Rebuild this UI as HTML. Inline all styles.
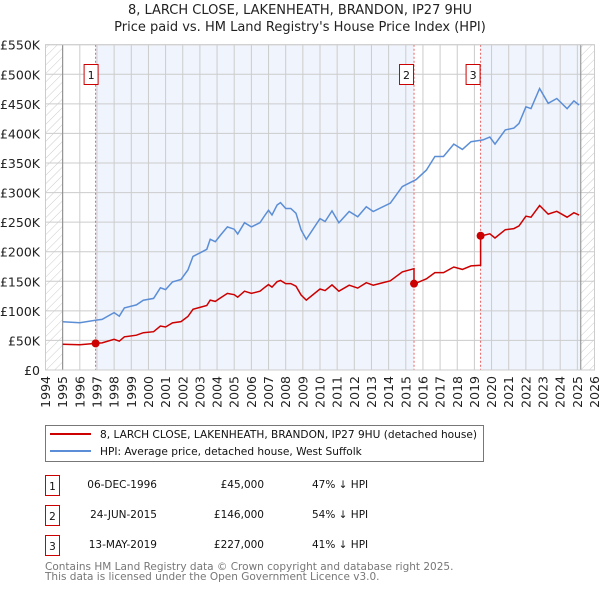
<!DOCTYPE html>
<html><head><meta charset="utf-8"><style>
body{margin:0;background:#fff;width:600px;height:590px;overflow:hidden;font-family:"DejaVu Sans","Liberation Sans",sans-serif;}
svg text{font-family:"DejaVu Sans","Liberation Sans",sans-serif;}
</style></head><body>
<svg id="chart" width="600" height="590" viewBox="0 0 600 590" xmlns="http://www.w3.org/2000/svg">
<defs><pattern id="hatch" width="6" height="6" patternUnits="userSpaceOnUse" patternTransform="rotate(45)"><line x1="0" y1="0" x2="0" y2="6" stroke="#ccc" stroke-width="1"/></pattern></defs>
<text x="300" y="14" text-anchor="middle" font-size="13" fill="#222">8, LARCH CLOSE, LAKENHEATH, BRANDON, IP27 9HU</text>
<text x="300" y="31" text-anchor="middle" font-size="13" fill="#222">Price paid vs. HM Land Registry's House Price Index (HPI)</text>
<g id="plot"></g>
<g>
<rect x="45.5" y="425.5" width="438" height="36" fill="#fff" stroke="#777"/>
<line x1="50" y1="434" x2="91" y2="434" stroke="#cc0000" stroke-width="2"/>
<text x="100" y="438" font-size="10.6" fill="#111">8, LARCH CLOSE, LAKENHEATH, BRANDON, IP27 9HU (detached house)</text>
<line x1="50" y1="451" x2="91" y2="451" stroke="#5b8ed6" stroke-width="2"/>
<text x="100" y="455" font-size="10.6" fill="#111">HPI: Average price, detached house, West Suffolk</text>
</g>
<g font-size="10.5" fill="#111">
<g><rect x="45.5" y="475.5" width="14" height="20" fill="none" stroke="#cc0000"/><text x="52.5" y="490" text-anchor="middle">1</text><text x="157" y="488" text-anchor="end">06-DEC-1996</text><text x="264" y="488" text-anchor="end">£45,000</text><text x="312" y="488">47% ↓ HPI</text></g>
<g><rect x="45.5" y="505.5" width="14" height="20" fill="none" stroke="#cc0000"/><text x="52.5" y="520" text-anchor="middle">2</text><text x="157" y="518" text-anchor="end">24-JUN-2015</text><text x="264" y="518" text-anchor="end">£146,000</text><text x="312" y="518">54% ↓ HPI</text></g>
<g><rect x="45.5" y="535.5" width="14" height="20" fill="none" stroke="#cc0000"/><text x="52.5" y="550" text-anchor="middle">3</text><text x="157" y="548" text-anchor="end">13-MAY-2019</text><text x="264" y="548" text-anchor="end">£227,000</text><text x="312" y="548">41% ↓ HPI</text></g>
</g>
<text x="45" y="570" font-size="10.5" fill="#777">Contains HM Land Registry data © Crown copyright and database right 2025.</text>
<text x="45" y="580" font-size="10.5" fill="#777">This data is licensed under the Open Government Licence v3.0.</text>
</svg>
<script>
const hpiYears=[1995.0,1996.0,1997.0,1997.3,1998.0,1998.3,1998.6,1999.3,1999.7,2000.3,2000.7,2001.0,2001.4,2001.9,2002.3,2002.6,2003.0,2003.4,2003.6,2003.9,2004.2,2004.6,2005.0,2005.2,2005.6,2006.0,2006.5,2006.8,2007.0,2007.2,2007.5,2007.7,2008.0,2008.3,2008.6,2008.9,2009.2,2010.0,2010.3,2010.7,2011.1,2011.7,2012.2,2012.7,2013.1,2014.1,2014.8,2015.6,2016.2,2016.7,2017.2,2017.8,2018.3,2018.8,2019.5,2019.9,2020.2,2020.8,2021.3,2021.6,2022.0,2022.3,2022.8,2023.3,2023.8,2024.4,2024.8,2025.1];
const hpiValues=[81.7,80,84.5,85.6,97,91,105,110,118,121,139,136,149,153,169,192,198,204,221,217,228,242,238,230,249,242,249,262,270,262,279,283,273,273,265,237,221,256,251,269,249,268,259,276,268,282,310,322,338,361,361,382,373,386,389,394,382,406,409,417,445,442,476,451,459,442,455,448];
const saleDates=[1996.92,2015.48,2019.36];
const salePrices=[45,146,227];
const saleLabels=["1","2","3"];
const yTicks=[0,50,100,150,200,250,300,350,400,450,500,550];
const yTickLabels=["£0","£50K","£100K","£150K","£200K","£250K","£300K","£350K","£400K","£450K","£500K","£550K"];
const xTicks=[1994,1995,1996,1997,1998,1999,2000,2001,2002,2003,2004,2005,2006,2007,2008,2009,2010,2011,2012,2013,2014,2015,2016,2017,2018,2019,2020,2021,2022,2023,2024,2025,2026];
const dataEnd=2025.2;

const X0=45.5,X1=594.5,Y0=370,Y1=44.7;
const xs=y=>X0+(y-1994)/(2026-1994)*(X1-X0);
const ys=v=>Y0-v/550*(Y0-Y1);
const NS="http://www.w3.org/2000/svg";
const plot=document.getElementById('plot');
function mk(t,a,p){const e=document.createElementNS(NS,t);for(const k in a)e.setAttribute(k,a[k]);(p||plot).appendChild(e);return e;}
function hpiAt(t){if(t<=hpiYears[0])return hpiValues[0];for(let i=1;i<hpiYears.length;i++){if(t<=hpiYears[i]){const f=(t-hpiYears[i-1])/(hpiYears[i]-hpiYears[i-1]);return hpiValues[i-1]+f*(hpiValues[i]-hpiValues[i-1]);}}return hpiValues[hpiValues.length-1];}

let bg=mk('rect',{x:X0,y:Y1,width:X1-X0,height:Y0-Y1,fill:'#fff'});


let h1=mk('rect',{x:X0,y:Y1,width:xs(1995)-X0,height:Y0-Y1,fill:'url(#hatch)'});


let h2=mk('rect',{x:xs(dataEnd),y:Y1,width:X1-xs(dataEnd),height:Y0-Y1,fill:'url(#hatch)'});


let s1=mk('rect',{x:xs(saleDates[0]),y:Y1,width:xs(saleDates[1])-xs(saleDates[0]),height:Y0-Y1,fill:'#f0f4fd'});


let s2=mk('rect',{x:xs(saleDates[2]),y:Y1,width:xs(dataEnd)-xs(saleDates[2]),height:Y0-Y1,fill:'#f0f4fd'});



yTicks.forEach((v,i)=>{
  let g=mk('line',{x1:X0,x2:X1,y1:ys(v),y2:ys(v),stroke:'#ccc','stroke-width':1});
  
  
  let t=mk('text',{x:40,y:ys(v)+5,'text-anchor':'end','font-size':12.5,fill:'#222'});
  
  
  t.textContent=yTickLabels[i];
});
xTicks.forEach(yr=>{
  let g=mk('line',{x1:xs(yr),x2:xs(yr),y1:Y1,y2:Y0,stroke:'#ccc','stroke-width':1});
  
  
  let t=mk('text',{x:0,y:0,'text-anchor':'end','font-size':12.5,fill:'#222',transform:`translate(${xs(yr)+4.5},${Y0+6}) rotate(-90)`});
  
  
  t.textContent=yr;
});
let a1=mk('line',{x1:xs(1995),x2:xs(1995),y1:Y1,y2:Y0,stroke:'#888'});


let a2=mk('line',{x1:xs(dataEnd),x2:xs(dataEnd),y1:Y1,y2:Y0,stroke:'#888'});



saleDates.forEach((d,i)=>{
  let l=mk('line',{x1:xs(d),x2:xs(d),y1:Y1,y2:Y0,stroke:'#e86060','stroke-dasharray':'2,2'});
  
  
  let r=mk('rect',{x:xs(d)-11.5-(i==0?0:3),y:64.5,width:14,height:20,fill:'#fff',stroke:'#cc0000'});
  
  
  let t=mk('text',{x:xs(d)-4.5-(i==0?0:3),y:79,'text-anchor':'middle','font-size':11,fill:'#111'});
  
  
  t.textContent=saleLabels[i];
});

let hp=hpiYears.map((y,i)=>`${xs(y).toFixed(1)},${ys(hpiValues[i]).toFixed(1)}`).join(' ');
let hl=mk('polyline',{points:hp,fill:'none',stroke:'#5b8ed6','stroke-width':1.5});



function ratioAt(t){let k=0;for(let i=0;i<saleDates.length;i++)if(t>=saleDates[i])k=i;return salePrices[k]/hpiAt(saleDates[k]);}
let pts=[];
const times=hpiYears.concat(saleDates).sort((a,b)=>a-b);
times.forEach(t=>{
  saleDates.forEach((d,i)=>{ if(i>0 && Math.abs(t-d)<1e-9){pts.push([d,hpiAt(d)*ratioAt(d-0.001)]);} });
  pts.push([t,hpiAt(t)*ratioAt(t)]);
});
let rp=pts.map(p=>`${xs(p[0]).toFixed(1)},${ys(p[1]).toFixed(1)}`).join(' ');
let rl=mk('polyline',{points:rp,fill:'none',stroke:'#cc0000','stroke-width':1.5});


saleDates.forEach((d,i)=>{
  let c=mk('circle',{cx:xs(d),cy:ys(salePrices[i]),r:4,fill:'#cc0000'});
  
  
});
let fr=mk('rect',{x:X0,y:Y1,width:X1-X0,height:Y0-Y1,fill:'none',stroke:'#ccc'});


</script>
</body></html>
